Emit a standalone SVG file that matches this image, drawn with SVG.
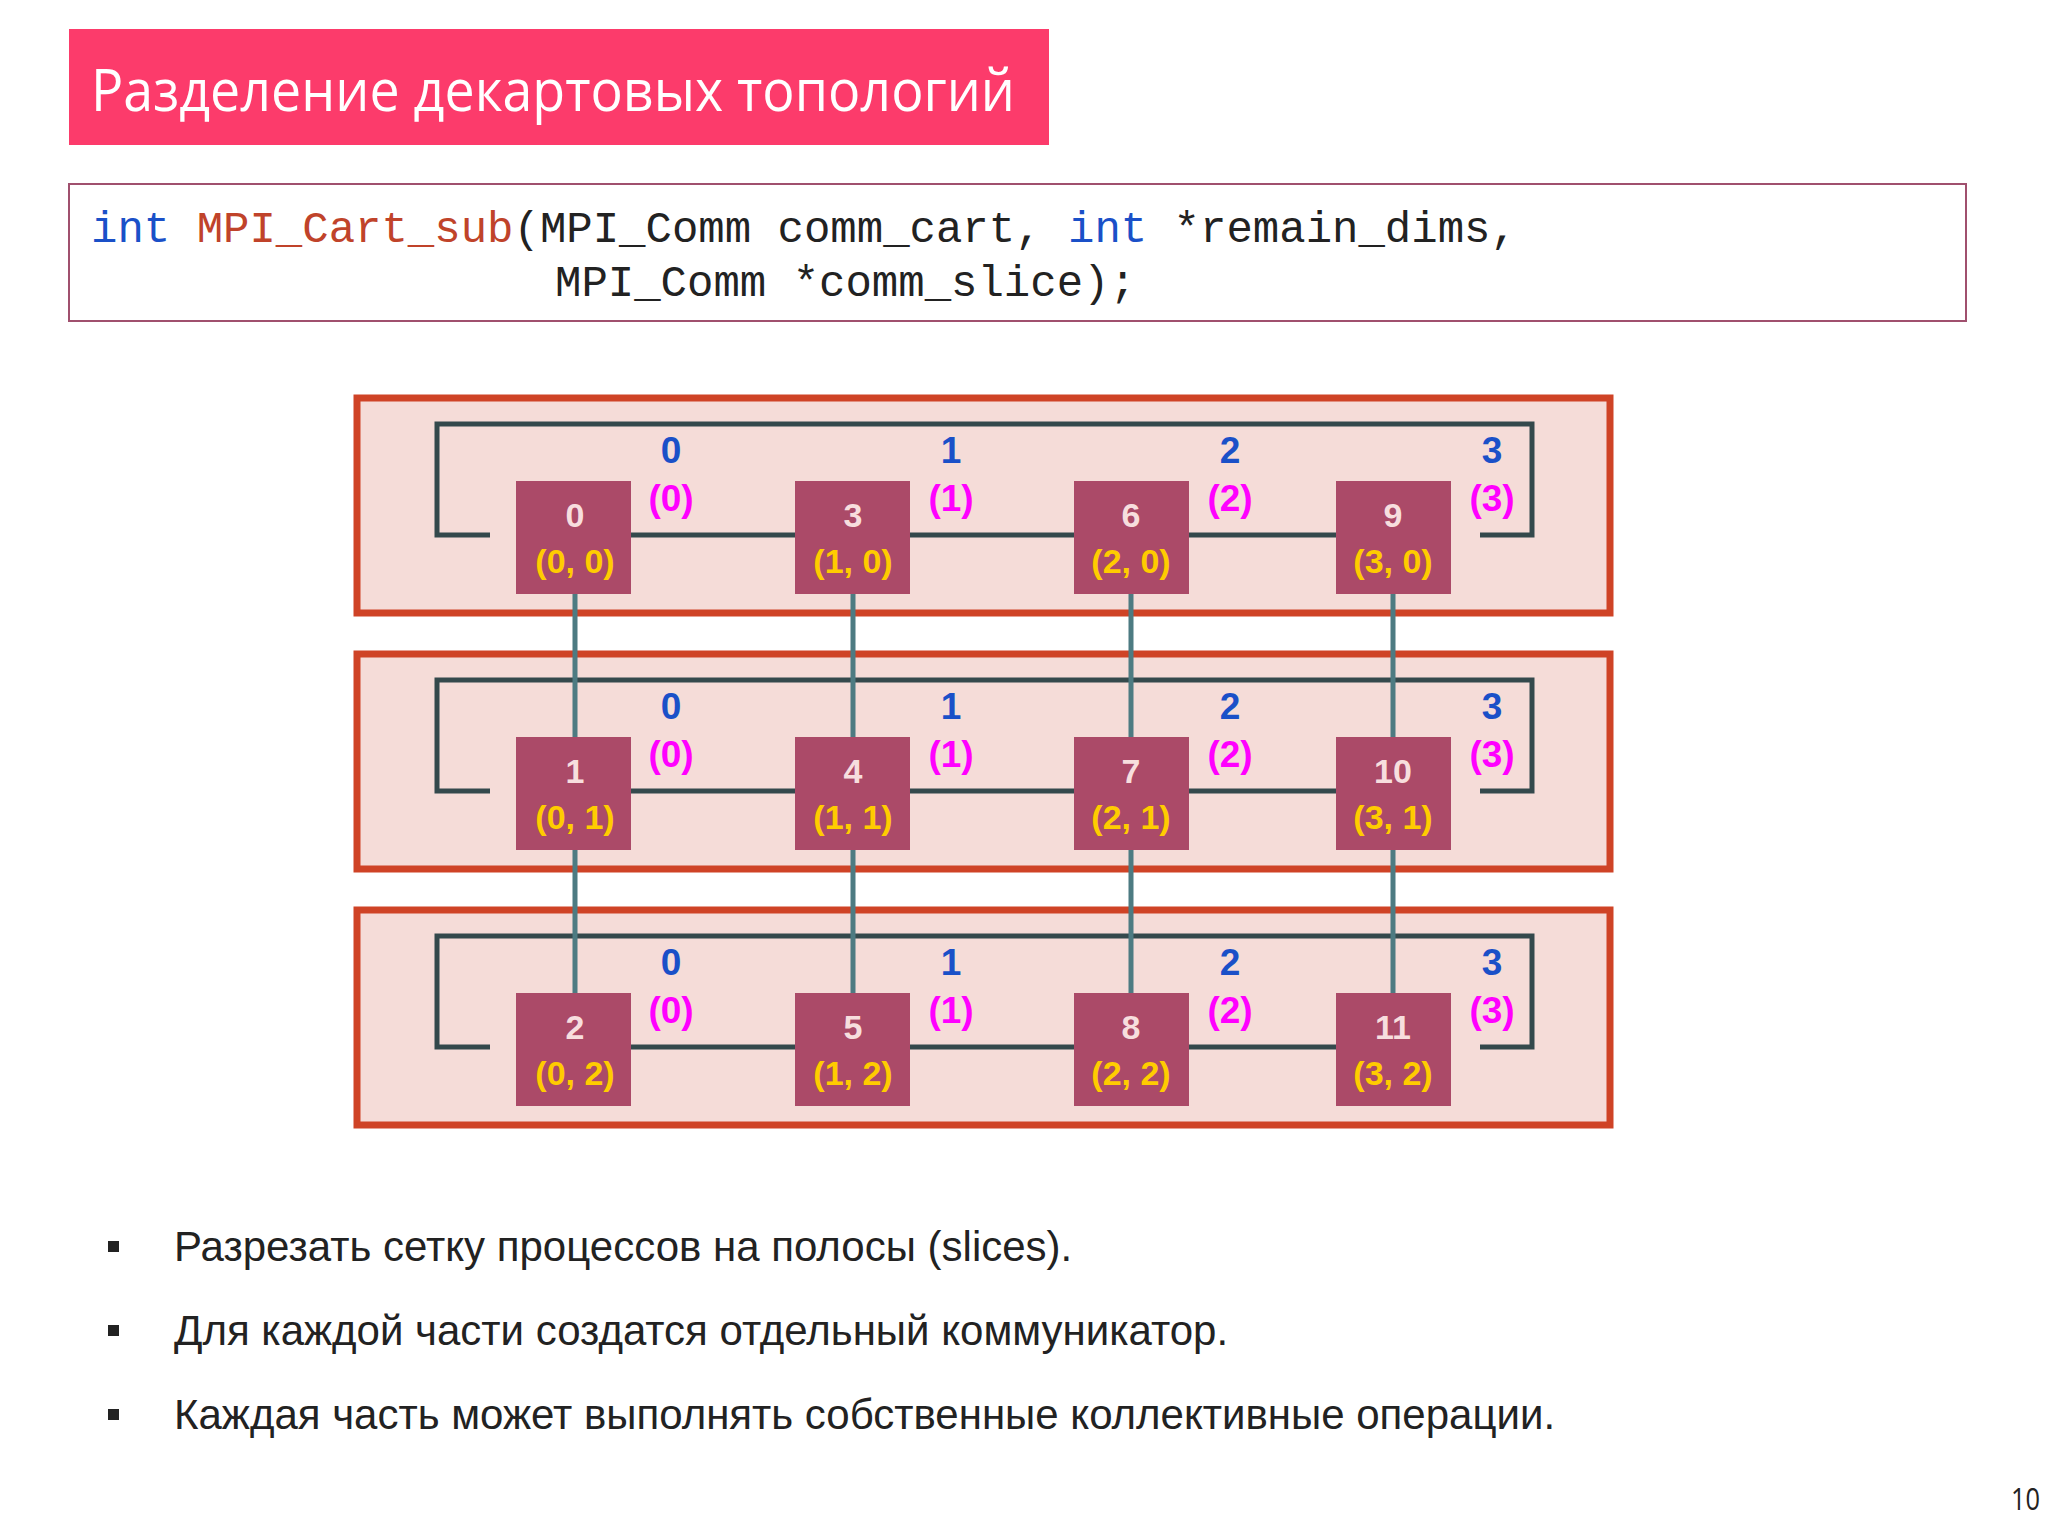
<svg xmlns="http://www.w3.org/2000/svg" xmlns:xlink="http://www.w3.org/1999/xlink" width="2048" height="1536" viewBox="0 0 2048 1536">
<defs>
<style>
.panel{fill:#f5dcd8;stroke:#cf4326;stroke-width:7}
.ring{fill:none;stroke:#34494c;stroke-width:5}
.vl{stroke:#4d7b82;stroke-width:5}
.node{fill:#ab4a68}
.num{font:bold 34px "Liberation Sans",Arial,sans-serif;fill:#f7dede;text-anchor:middle}
.crd{font:bold 34px "Liberation Sans",Arial,sans-serif;fill:#ffcc00;text-anchor:middle}
.bl{font:bold 37px "Liberation Sans",Arial,sans-serif;fill:#1a50c8;text-anchor:middle}
.pk{font:bold 37px "Liberation Sans",Arial,sans-serif;fill:#ff00ff;text-anchor:middle}
.code{font:44px "Liberation Mono","DejaVu Sans Mono",monospace;fill:#222}
.bul{font:42px "Liberation Sans",Arial,sans-serif;fill:#222}
</style>
<g id="rowtpl">
<rect class="panel" x="357" y="398" width="1253" height="215"/>
<path class="ring" d="M490,535 H437 V424 H1532 V535 H1480 M631,535 H795 M910,535 H1074 M1189,535 H1336"/>
</g>
</defs>
<rect width="2048" height="1536" fill="#fff"/>
<g id="title">
<rect x="69" y="29" width="980" height="116" fill="#fc3b6b"/>
<text x="91" y="111" font-family="'Open Sans','Liberation Sans',sans-serif" font-size="58" fill="#fff" textLength="924" lengthAdjust="spacingAndGlyphs">Разделение декартовых топологий</text>
</g>
<g id="code">
<rect x="69" y="184" width="1897" height="137" fill="#fff" stroke="#a0506e" stroke-width="2"/>
<text class="code" x="91" y="242" xml:space="preserve"><tspan fill="#1a50c8">int</tspan> <tspan fill="#c0432a">MPI_Cart_sub</tspan>(MPI_Comm comm_cart, <tspan fill="#1a50c8">int</tspan> *remain_dims,</text>
<text class="code" x="555" y="296">MPI_Comm *comm_slice);</text>
</g>
<g id="panels">
<use xlink:href="#rowtpl"/>
<use xlink:href="#rowtpl" y="256"/>
<use xlink:href="#rowtpl" y="512"/>
</g>
<g id="connectors">
<line class="vl" x1="575" y1="594" x2="575" y2="993"/>
<line class="vl" x1="853" y1="594" x2="853" y2="993"/>
<line class="vl" x1="1131" y1="594" x2="1131" y2="993"/>
<line class="vl" x1="1393" y1="594" x2="1393" y2="993"/>
</g>
<g id="nodes">
<g id="n0"><rect class="node" x="516" y="481" width="115" height="113"/><text class="num" x="575" y="527">0</text><text class="crd" x="575" y="573">(0, 0)</text></g>
<g id="n3"><rect class="node" x="795" y="481" width="115" height="113"/><text class="num" x="853" y="527">3</text><text class="crd" x="853" y="573">(1, 0)</text></g>
<g id="n6"><rect class="node" x="1074" y="481" width="115" height="113"/><text class="num" x="1131" y="527">6</text><text class="crd" x="1131" y="573">(2, 0)</text></g>
<g id="n9"><rect class="node" x="1336" y="481" width="115" height="113"/><text class="num" x="1393" y="527">9</text><text class="crd" x="1393" y="573">(3, 0)</text></g>
<g id="n1"><rect class="node" x="516" y="737" width="115" height="113"/><text class="num" x="575" y="783">1</text><text class="crd" x="575" y="829">(0, 1)</text></g>
<g id="n4"><rect class="node" x="795" y="737" width="115" height="113"/><text class="num" x="853" y="783">4</text><text class="crd" x="853" y="829">(1, 1)</text></g>
<g id="n7"><rect class="node" x="1074" y="737" width="115" height="113"/><text class="num" x="1131" y="783">7</text><text class="crd" x="1131" y="829">(2, 1)</text></g>
<g id="n10"><rect class="node" x="1336" y="737" width="115" height="113"/><text class="num" x="1393" y="783">10</text><text class="crd" x="1393" y="829">(3, 1)</text></g>
<g id="n2"><rect class="node" x="516" y="993" width="115" height="113"/><text class="num" x="575" y="1039">2</text><text class="crd" x="575" y="1085">(0, 2)</text></g>
<g id="n5"><rect class="node" x="795" y="993" width="115" height="113"/><text class="num" x="853" y="1039">5</text><text class="crd" x="853" y="1085">(1, 2)</text></g>
<g id="n8"><rect class="node" x="1074" y="993" width="115" height="113"/><text class="num" x="1131" y="1039">8</text><text class="crd" x="1131" y="1085">(2, 2)</text></g>
<g id="n11"><rect class="node" x="1336" y="993" width="115" height="113"/><text class="num" x="1393" y="1039">11</text><text class="crd" x="1393" y="1085">(3, 2)</text></g>
</g>
<g id="labels">
<text class="bl" x="671" y="463">0</text><text class="bl" x="951" y="463">1</text><text class="bl" x="1230" y="463">2</text><text class="bl" x="1492" y="463">3</text>
<text class="pk" x="671" y="511">(0)</text><text class="pk" x="951" y="511">(1)</text><text class="pk" x="1230" y="511">(2)</text><text class="pk" x="1492" y="511">(3)</text>
<text class="bl" x="671" y="719">0</text><text class="bl" x="951" y="719">1</text><text class="bl" x="1230" y="719">2</text><text class="bl" x="1492" y="719">3</text>
<text class="pk" x="671" y="767">(0)</text><text class="pk" x="951" y="767">(1)</text><text class="pk" x="1230" y="767">(2)</text><text class="pk" x="1492" y="767">(3)</text>
<text class="bl" x="671" y="975">0</text><text class="bl" x="951" y="975">1</text><text class="bl" x="1230" y="975">2</text><text class="bl" x="1492" y="975">3</text>
<text class="pk" x="671" y="1023">(0)</text><text class="pk" x="951" y="1023">(1)</text><text class="pk" x="1230" y="1023">(2)</text><text class="pk" x="1492" y="1023">(3)</text>
</g>
<g id="bullets">
<rect x="108" y="1241" width="11" height="11" fill="#222"/>
<text class="bul" x="174" y="1261">Разрезать сетку процессов на полосы (slices).</text>
<rect x="108" y="1325" width="11" height="11" fill="#222"/>
<text class="bul" x="174" y="1345">Для каждой части создатся отдельный коммуникатор.</text>
<rect x="108" y="1409" width="11" height="11" fill="#222"/>
<text class="bul" x="174" y="1429">Каждая часть может выполнять собственные коллективные операции.</text>
</g>
<text x="2011" y="1510" font-family="'Open Sans','Liberation Sans',sans-serif" font-size="31" fill="#222" textLength="29" lengthAdjust="spacingAndGlyphs">10</text>
</svg>
